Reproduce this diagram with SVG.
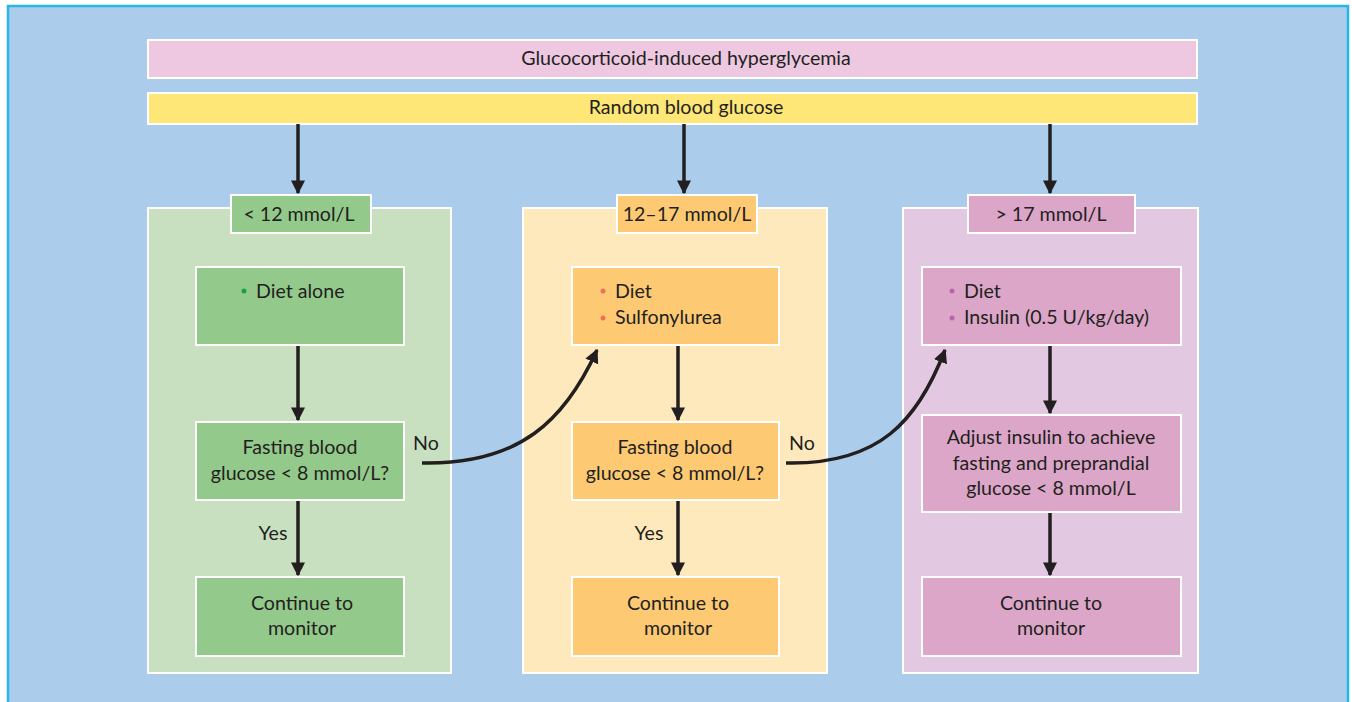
<svg xmlns="http://www.w3.org/2000/svg" width="1352" height="702" viewBox="0 0 1352 702">
<style>
text{font-family:Lato,"Open Sans","Liberation Sans",sans-serif;font-size:19.6px;fill:#231f20}
.c{text-anchor:middle}
.w{stroke:#fff;stroke-width:2}
.ln{stroke:#231f20;stroke-width:3.5;fill:none}
</style>
<defs>
<marker id="ah" viewBox="0 0 10 10" refX="9" refY="5" markerWidth="4" markerHeight="4" orient="auto" markerUnits="strokeWidth">
<path d="M0,0L10,5L0,10z" fill="#231f20"/>
</marker>
</defs>
<rect x="0" y="0" width="1352" height="702" fill="#fff"/>
<rect x="8" y="6" width="1340" height="710" fill="#abcdeb" stroke="#29b5e8" stroke-width="2.5"/>
<g id="title"><rect class="w" x="148" y="40" width="1049" height="38" fill="#eec8e0"/><text class="c" x="686" y="65">Glucocorticoid-induced hyperglycemia</text></g>
<g id="random"><rect class="w" x="148" y="93" width="1049" height="31" fill="#fee677"/><text class="c" x="686" y="114">Random blood glucose</text></g>
<g id="panel-low"><rect class="w" x="148" y="208" width="303" height="465" fill="#c8e0c0"/></g>
<g id="panel-mid"><rect class="w" x="523" y="208" width="304" height="465" fill="#fde9bb"/></g>
<g id="panel-high"><rect class="w" x="903" y="208" width="295" height="465" fill="#e2c9e1"/></g>
<g id="connectors">
<line class="ln" x1="298" y1="124" x2="298" y2="193" marker-end="url(#ah)"/>
<line class="ln" x1="684" y1="124" x2="684" y2="193" marker-end="url(#ah)"/>
<line class="ln" x1="1050" y1="124" x2="1050" y2="193" marker-end="url(#ah)"/>
<line class="ln" x1="298" y1="345" x2="298" y2="420" marker-end="url(#ah)"/>
<line class="ln" x1="298" y1="500" x2="298" y2="575" marker-end="url(#ah)"/>
<line class="ln" x1="678" y1="345" x2="678" y2="420" marker-end="url(#ah)"/>
<line class="ln" x1="678" y1="500" x2="678" y2="575" marker-end="url(#ah)"/>
<line class="ln" x1="1050" y1="345" x2="1050" y2="413" marker-end="url(#ah)"/>
<line class="ln" x1="1050" y1="512" x2="1050" y2="575" marker-end="url(#ah)"/>
<path class="ln" d="M422,463 C520,465 565,420 597,350" marker-end="url(#ah)"/>
<path class="ln" d="M786,463 C880,465 918,420 945,350" marker-end="url(#ah)"/>
<text x="413" y="450">No</text>
<text x="789" y="450">No</text>
<text class="c" x="273" y="540">Yes</text>
<text class="c" x="649" y="540">Yes</text>
</g>
<g id="h-low"><rect class="w" x="231" y="195" width="140" height="38" fill="#93c98b"/><text class="c" x="299" y="221">&lt; 12 mmol/L</text></g>
<g id="h-mid"><rect class="w" x="617" y="195" width="140" height="38" fill="#fdca73"/><text class="c" x="687" y="221">12–17 mmol/L</text></g>
<g id="h-high"><rect class="w" x="968" y="195" width="167" height="38" fill="#dca6c8"/><text class="c" x="1051" y="221">&gt; 17 mmol/L</text></g>
<g id="diet-alone"><rect class="w" x="196" y="267" width="208" height="78" fill="#93c98b"/><circle cx="244" cy="291" r="2.5" fill="#1aa04a"/><text x="256" y="298">Diet alone</text></g>
<g id="fast-low"><rect class="w" x="196" y="422" width="208" height="78" fill="#93c98b"/><text class="c" x="300" y="454">Fasting blood</text><text class="c" x="300" y="480">glucose &lt; 8 mmol/L?</text></g>
<g id="cont-low"><rect class="w" x="196" y="577" width="208" height="79" fill="#93c98b"/><text class="c" x="302" y="610">Continue to</text><text class="c" x="302" y="635">monitor</text></g>
<g id="diet-sulf"><rect class="w" x="572" y="267" width="207" height="78" fill="#fdca73"/><circle cx="603" cy="291" r="2.5" fill="#e8735a"/><text x="615" y="298">Diet</text><circle cx="603" cy="318" r="2.5" fill="#e8735a"/><text x="615" y="324">Sulfonylurea</text></g>
<g id="fast-mid"><rect class="w" x="572" y="422" width="207" height="78" fill="#fdca73"/><text class="c" x="675" y="454">Fasting blood</text><text class="c" x="675" y="480">glucose &lt; 8 mmol/L?</text></g>
<g id="cont-mid"><rect class="w" x="572" y="577" width="207" height="79" fill="#fdca73"/><text class="c" x="678" y="610">Continue to</text><text class="c" x="678" y="635">monitor</text></g>
<g id="diet-ins"><rect class="w" x="922" y="267" width="259" height="78" fill="#dca6c8"/><circle cx="952" cy="291" r="2.5" fill="#b267b0"/><text x="964" y="298">Diet</text><circle cx="952" cy="318" r="2.5" fill="#b267b0"/><text x="964" y="324">Insulin (0.5 U/kg/day)</text></g>
<g id="adjust"><rect class="w" x="922" y="415" width="259" height="97" fill="#dca6c8"/><text class="c" x="1051" y="444">Adjust insulin to achieve</text><text class="c" x="1051" y="470">fasting and preprandial</text><text class="c" x="1051" y="495">glucose &lt; 8 mmol/L</text></g>
<g id="cont-high"><rect class="w" x="922" y="577" width="259" height="79" fill="#dca6c8"/><text class="c" x="1051" y="610">Continue to</text><text class="c" x="1051" y="635">monitor</text></g>
</svg>
